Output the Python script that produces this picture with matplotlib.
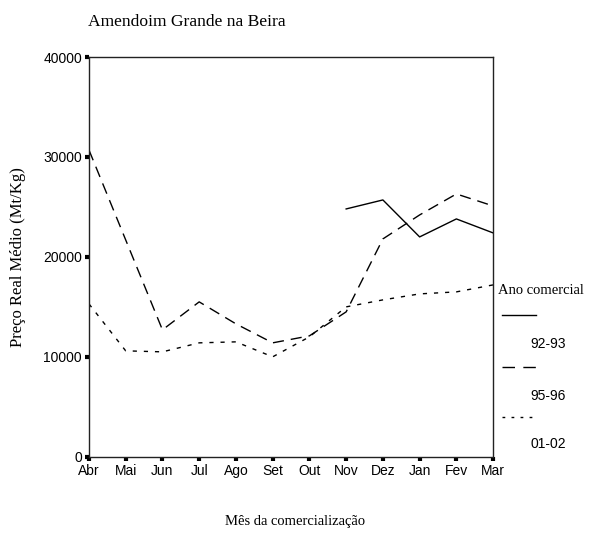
"""Amendoim Grande na Beira - real average price per month of commercialisation."""

import matplotlib

matplotlib.use("Agg")
import matplotlib.pyplot as plt
from matplotlib.lines import Line2D

months = ["Abr", "Mai", "Jun", "Jul", "Ago", "Set", "Out", "Nov", "Dez", "Jan", "Fev", "Mar"]

# 92-93 only has data from Nov onwards
months_9293 = ["Nov", "Dez", "Jan", "Fev", "Mar"]
price_9293 = [24800, 25700, 22000, 23800, 22400]

price_9596 = [30700, 21700, 12700, 15500, 13300, 11400, 12100, 14500, 21800, 24200, 26300, 25100]
price_0102 = [15300, 10600, 10500, 11400, 11500, 10000, 12000, 15000, 15700, 16300, 16500, 17200]

series_labels = ["92-93", "95-96", "01-02"]
y_ticks = [0, 10000, 20000, 30000, 40000]

SERIF = "Liberation Serif"
SANS = "Liberation Sans"

fig = plt.figure(figsize=(5.97, 5.33), dpi=100)
ax = fig.add_axes([0.149, 0.143, 0.677, 0.750])

x_all = list(range(len(months)))
x_9293 = [months.index(m) for m in months_9293]

ax.plot(x_9293, price_9293, color="black", linewidth=1.0, linestyle="-")
ax.plot(x_all, price_9596, color="black", linewidth=1.0, linestyle=(0, (8, 5)))
ax.plot(x_all, price_0102, color="black", linewidth=1.0, linestyle=(0, (3, 5)))

ax.set_xlim(0, len(months) - 1)
ax.set_ylim(0, 40000)
ax.set_xticks(x_all)
ax.set_xticklabels(months, fontname=SANS, fontsize=10)
ax.set_yticks(y_ticks)
ax.set_yticklabels([str(v) for v in y_ticks], fontname=SANS, fontsize=10)
ax.tick_params(direction="out", length=3, width=3, pad=2)
for spine in ax.spines.values():
    spine.set_linewidth(1.0)
    spine.set_color("#222222")

ax.set_ylabel("Preço Real Médio (Mt/Kg)", fontname=SERIF, fontsize=12, labelpad=12)
fig.text(295 / 597, 1 - 522 / 533, "Mês da comercialização", fontname=SERIF,
         fontsize=10.5, ha="center", va="center")
fig.text(0.147, 0.958, "Amendoim Grande na Beira", fontname=SERIF, fontsize=12.6,
         ha="left", va="center")

# legend drawn to the right, label under each sample line
fig.text(0.834, 1 - 291 / 533, "Ano comercial", fontname=SERIF, fontsize=10.5,
         ha="left", va="center")
styles = ["-", (0, (9, 6)), (0, (2, 4.5))]
sample_y = [315, 367, 417]
label_y = [344, 396, 444]
for style, sy, ly, label in zip(styles, sample_y, label_y, series_labels):
    fig.add_artist(Line2D([502 / 597, 536 / 597], [1 - sy / 533, 1 - sy / 533],
                          transform=fig.transFigure, color="black",
                          linewidth=1.0, linestyle=style))
    fig.text(566 / 597, 1 - ly / 533, label, fontname=SANS, fontsize=10,
             ha="right", va="center")

fig.savefig("out.png", dpi=100)
